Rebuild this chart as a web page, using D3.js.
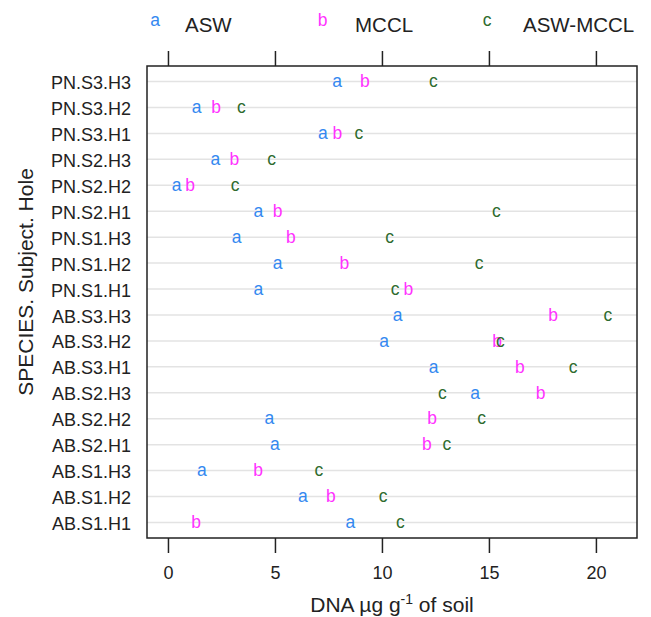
<!DOCTYPE html>
<html><head><meta charset="utf-8">
<script src="https://cdn.jsdelivr.net/npm/d3@7"></script>
<style>body{margin:0;background:#fff}svg{display:block}text{font-family:"Liberation Sans",Arial,sans-serif}</style>
</head><body>
<script>
const categories = ["PN.S3.H3","PN.S3.H2","PN.S3.H1","PN.S2.H3","PN.S2.H2","PN.S2.H1","PN.S1.H3","PN.S1.H2","PN.S1.H1",
  "AB.S3.H3","AB.S3.H2","AB.S3.H1","AB.S2.H3","AB.S2.H2","AB.S2.H1","AB.S1.H3","AB.S1.H2","AB.S1.H1"];
const asw     = [7.9, 1.34, 7.24, 2.22, 0.4, 4.23, 3.21, 5.12, 4.23, 10.73, 10.1, 12.42, 14.35, 4.74, 5.0, 1.59, 6.3, 8.52];
const mccl    = [9.2, 2.25, 7.92, 3.1, 1.03, 5.12, 5.74, 8.24, 11.24, 18.0, 15.38, 16.44, 17.41, 12.34, 12.1, 4.21, 7.61, 1.31];
const aswMccl = [12.4, 3.43, 8.92, 4.84, 3.14, 15.35, 10.36, 14.54, 10.62, 20.56, 15.54, 18.94, 12.82, 14.66, 13.04, 7.05, 10.05, 10.86];
const seriesNames = ["ASW","MCCL","ASW-MCCL"];
const seriesSymbols = ["a","b","c"];
const seriesColors = ["#3388f0","#ff33ff","#2e6b2e"];
const xTicks = [0,5,10,15,20];

const W = 651, H = 617;
const box = {l:147, r:637, t:66, b:538};
const svg = d3.select("body").append("svg").attr("width",W).attr("height",H);

const x = d3.scaleLinear().domain([-0.98, 21.92]).range([box.l, box.r]);
const y = d3.scalePoint().domain(categories).range([box.t, box.b]).padding(0.6);

// grid lines
svg.append("g").selectAll("line").data(categories).join("line")
  .attr("x1", box.l).attr("x2", box.r)
  .attr("y1", d=>y(d)).attr("y2", d=>y(d))
  .attr("stroke","#e3e3e3").attr("stroke-width",1.5);

// points as letters
const series = [asw, mccl, aswMccl];
series.forEach((vals, si) => {
  svg.append("g").selectAll("text").data(vals).join("text")
    .attr("x", d=>x(d)).attr("y", (d,i)=>y(categories[i]))
    .attr("dy","0.33em").attr("text-anchor","middle")
    .attr("font-size",17.5).attr("fill",seriesColors[si])
    .text(seriesSymbols[si]);
});

// box
svg.append("rect").attr("x",box.l).attr("y",box.t).attr("width",box.r-box.l).attr("height",box.b-box.t)
  .attr("fill","none").attr("stroke","#222").attr("stroke-width",1.5);

// bottom axis
const bottomAxis = svg.append("g").attr("transform",`translate(0,${box.b})`)
  .call(d3.axisBottom(x).tickValues(xTicks).tickSize(15).tickPadding(13).tickFormat(d3.format("d")));
bottomAxis.select(".domain").remove();
bottomAxis.selectAll(".tick line").attr("stroke","#222").attr("stroke-width",1.5);
bottomAxis.selectAll(".tick text").attr("font-size",18).attr("fill","#222").attr("font-family",'"Liberation Sans",Arial,sans-serif');

// top axis (ticks only)
const topAxis = svg.append("g").attr("transform",`translate(0,${box.t})`)
  .call(d3.axisTop(x).tickValues(xTicks).tickSize(15).tickFormat(""));
topAxis.select(".domain").remove();
topAxis.selectAll(".tick line").attr("stroke","#222").attr("stroke-width",1.5);

// y labels
svg.append("g").selectAll("text").data(categories).join("text")
  .attr("x", box.l-16).attr("y", d=>y(d)).attr("dy","0.42em")
  .attr("text-anchor","end").attr("font-size",18).attr("fill","#222")
  .text(d=>d);

// y title
svg.append("text").attr("transform",`translate(33,282) rotate(-90)`)
  .attr("text-anchor","middle").attr("font-size",21).attr("fill","#222")
  .text("SPECIES. Subject. Hole");

// x title
const xt = svg.append("text").attr("x",(box.l+box.r)/2).attr("y",612)
  .attr("text-anchor","middle").attr("font-size",21).attr("fill","#222");
xt.append("tspan").text("DNA µg g");
xt.append("tspan").attr("dy",-8).attr("font-size",14).text("-1");
xt.append("tspan").attr("dy",8).text(" of soil");

// legend
const legSymX = [155, 322.5, 487];
const legTextX = [185, 355, 523];
const legG = svg.append("g");
seriesNames.forEach((n,i)=>{
  legG.append("text").attr("x",legSymX[i]).attr("y",26)
    .attr("text-anchor","middle").attr("font-size",17.5).attr("fill",seriesColors[i]).text(seriesSymbols[i]);
  legG.append("text").attr("x",legTextX[i]).attr("y",31.5)
    .attr("font-size",20.5).attr("fill","#222").text(n);
});
</script>
</body></html>
